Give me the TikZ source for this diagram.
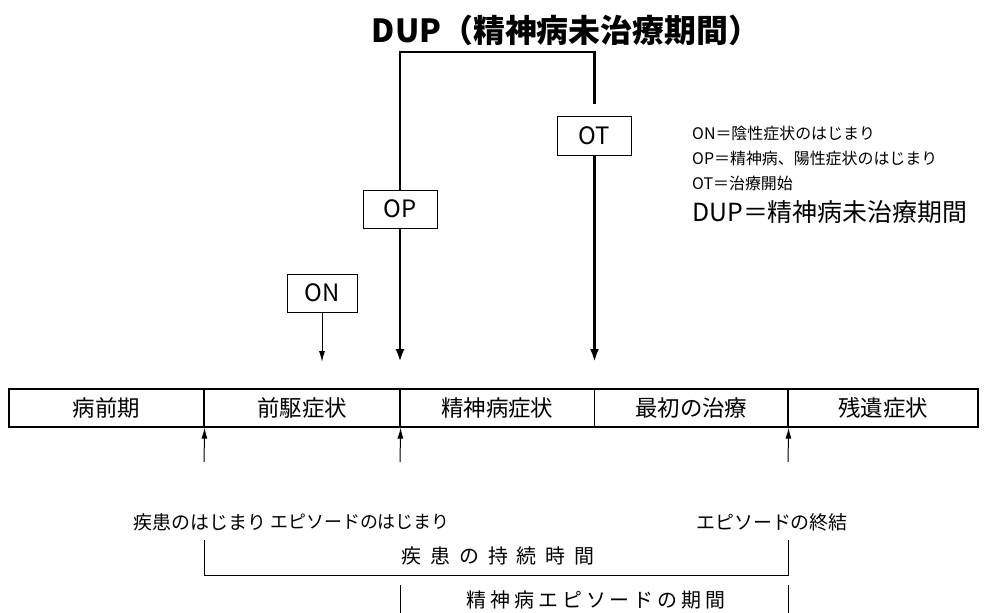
\documentclass[tikz,border=0pt]{standalone}
\usepackage{fontspec}
\setmainfont{Noto Sans CJK JP}
\newfontfamily\spacedfont[LetterSpace=45]{Noto Sans CJK JP}
\newfontfamily\spacedfontb[LetterSpace=20]{Noto Sans CJK JP}
\usetikzlibrary{arrows.meta}
\begin{document}
\begin{tikzpicture}[x=1bp,y=-1bp,
  tag/.style={draw,line width=1pt,minimum width=74bp,minimum height=38bp,inner sep=0pt,font=\fontsize{24}{24}\selectfont},
  cell/.style={draw,line width=1.2pt,minimum height=38bp,inner sep=0pt,font=\fontsize{22.5}{22.5}\selectfont},
  thickarr/.style={line width=2.6pt,-{Latex[length=13bp,width=9bp]}},
  thinarr/.style={line width=1pt,-{Latex[length=11bp,width=6bp]}},
  brack/.style={line width=3pt,line join=miter},
  thinline/.style={line width=1pt},
  lab/.style={inner sep=0pt,font=\fontsize{19}{19}\selectfont},
  note/.style={anchor=west,inner sep=0pt,font=\fontsize{16}{16}\selectfont}
]
\useasboundingbox (0,0) rectangle (996,613);
% title
\node[inner sep=0pt,font=\bfseries\fontsize{32}{32}\selectfont] (title) at (566,30) {DUP（精神病未治療期間）};
% tags
\node[tag] (op) at (400,209) {OP};
\node[tag] (ot) at (594.5,136) {OT};
\node[tag,minimum width=70bp] (on) at (322,293) {ON};
% DUP bracket
\coordinate (tl) at (400,52);
\coordinate (tr) at (594.5,52);
\coordinate (dupR) at (594.5,104);
\draw[brack] (op.north) -- (tl) -- (tr) -- (dupR);
% down arrows
\coordinate (opend) at (400,362);
\coordinate (otend) at (594.5,362);
\coordinate (onend) at (322,362);
\draw[thickarr] (op.south) -- (opend);
\draw[thickarr] (ot.south) -- (otend);
\draw[thinarr] (on.south) -- (onend);
% legend
\node[note] (n1) at (692,133) {ON＝陰性症状のはじまり};
\node[note] (n2) at (692,158) {OP＝精神病、陽性症状のはじまり};
\node[note] (n3) at (692,183) {OT＝治療開始};
\node[note,font=\fontsize{25}{25}\selectfont] (n4) at (692,212) {DUP＝精神病未治療期間};
% bar
\node[cell,minimum width=195bp] (c1) at (106.5,408) {病前期};
\node[cell,minimum width=196bp] (c2) at (302,408) {前駆症状};
\node[cell,minimum width=194.5bp] (c3) at (497.25,408) {精神病症状};
\node[cell,minimum width=193.5bp] (c4) at (691.25,408) {最初の治療};
\node[cell,minimum width=190bp] (c5) at (883,408) {残遺症状};
% up arrows
\coordinate (u1) at (204,462);
\coordinate (u2) at (400,462);
\coordinate (u3) at (788,462);
\draw[thinarr] (u1) -- (c1.south east);
\draw[thinarr] (u2) -- (c2.south east);
\draw[thinarr] (u3) -- (c4.south east);
% labels
\node[lab] (l1) at (200,522) {疾患のはじまり};
\node[lab,font=\fontsize{18}{18}\selectfont] (l2) at (360,522) {エピソードのはじまり};
\node[lab] (l3) at (772,522) {エピソードの終結};
% duration bracket
\coordinate (b1) at (204,540);
\coordinate (b2) at (204,575);
\coordinate (b3) at (788,575);
\coordinate (b4) at (788,540);
\draw[thinline] (b1) -- (b2) -- (b3) -- (b4);
\node[lab,font=\spacedfont\fontsize{20}{20}\selectfont] (dur) at (498,556) {疾患の持続時間};
% episode
\coordinate (e1) at (400,585);
\coordinate (e1b) at (400,613);
\coordinate (e2) at (788,585);
\coordinate (e2b) at (788,613);
\draw[thinline] (e1) -- (e1b);
\draw[thinline] (e2) -- (e2b);
\node[lab,font=\spacedfontb\fontsize{20}{20}\selectfont] (epi) at (596,600) {精神病エピソードの期間};
\end{tikzpicture}
\end{document}
